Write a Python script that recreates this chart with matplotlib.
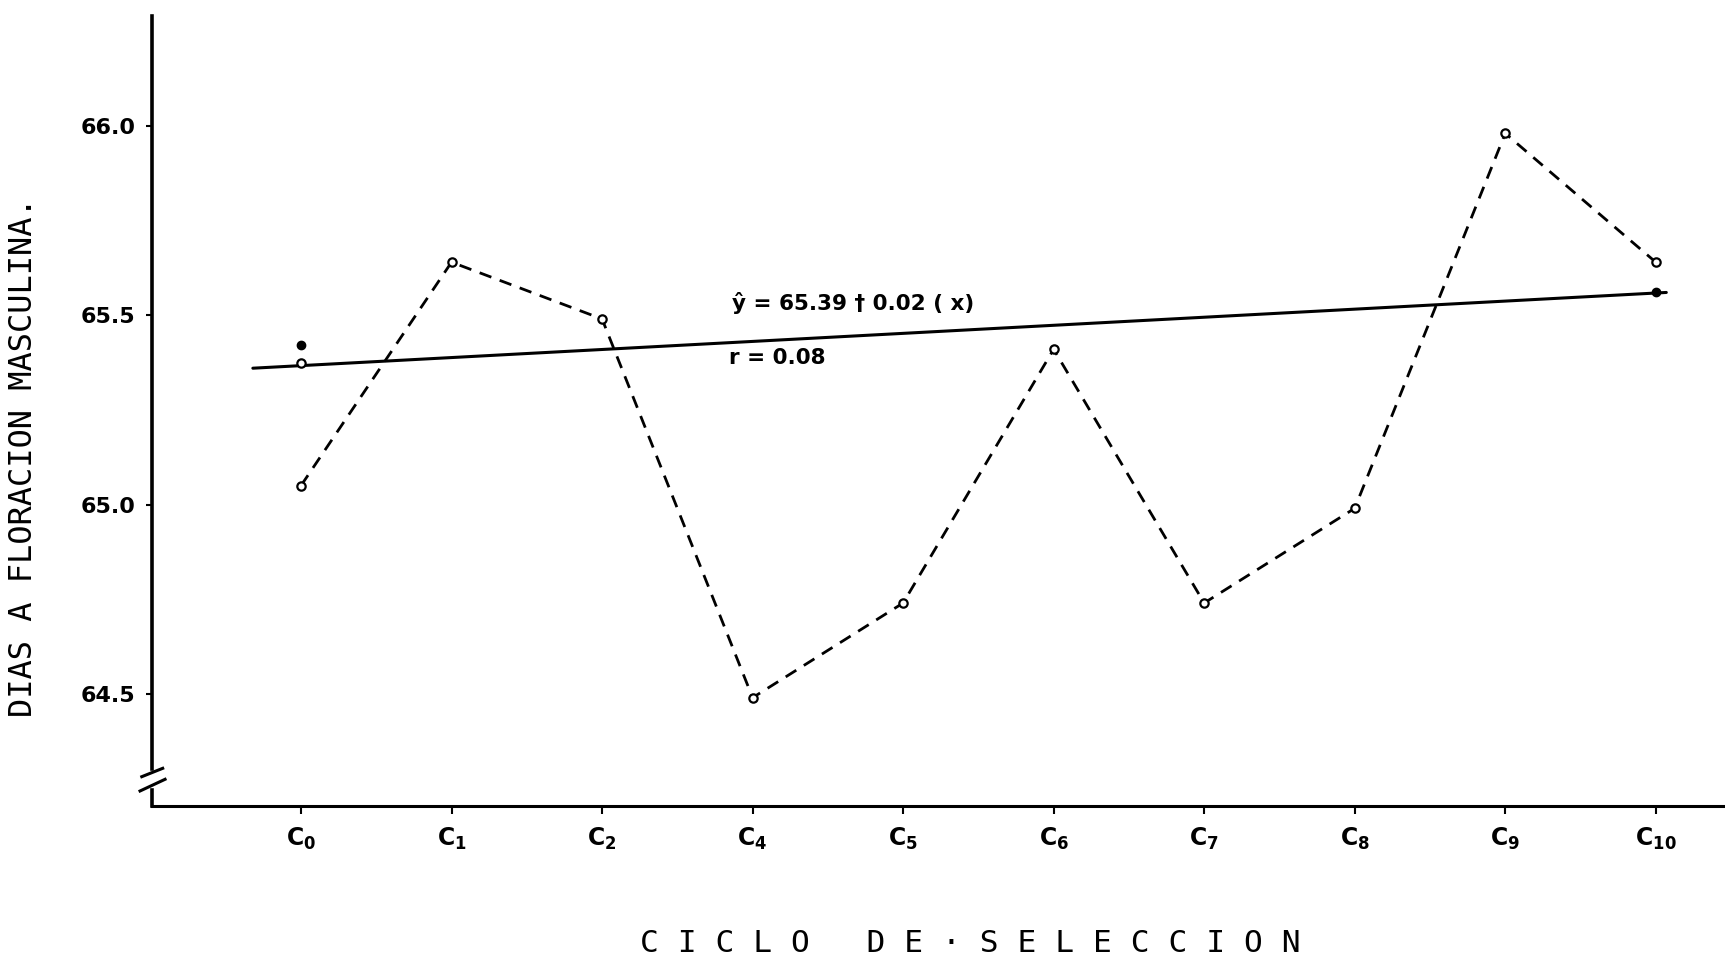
import matplotlib
matplotlib.use("Agg")
import matplotlib.pyplot as plt

# datos
ciclos = [r"$\mathbf{C_{0}}$", r"$\mathbf{C_{1}}$", r"$\mathbf{C_{2}}$",
          r"$\mathbf{C_{4}}$", r"$\mathbf{C_{5}}$", r"$\mathbf{C_{6}}$",
          r"$\mathbf{C_{7}}$", r"$\mathbf{C_{8}}$", r"$\mathbf{C_{9}}$",
          r"$\mathbf{C_{10}}$"]
dias = [65.05, 65.64, 65.49, 64.49, 64.74, 65.41, 64.74, 64.99, 65.98, 65.64]

# recta de regresion, extremos tal como se trazaron
recta_x = [-0.32, 9.07]
recta_y = [65.36, 65.56]

# puntos sueltos junto a la recta
extra_abiertos_x = [0]
extra_abiertos_y = [65.375]
extra_llenos_x = [0, 9]
extra_llenos_y = [65.42, 65.56]

yticks = [64.5, 65.0, 65.5, 66.0]

W, H = 1725, 957
fig = plt.figure(figsize=(W / 100, H / 100), dpi=100)
ax = fig.add_axes([152 / W, (H - 806) / H, (W - 152) / W, 790 / H])

xs = list(range(len(ciclos)))

ax.plot(recta_x, recta_y, color="black", lw=2.2, solid_capstyle="round")
ax.plot(xs, dias, color="black", lw=2.0, dashes=(4.5, 3.2),
        marker="o", ms=6, mfc="white", mec="black", mew=1.6)
ax.plot(extra_abiertos_x, extra_abiertos_y, ls="none", marker="o", ms=6,
        mfc="white", mec="black", mew=1.6)
ax.plot(extra_llenos_x, extra_llenos_y, ls="none", marker="o", ms=6,
        color="black")

ax.text(2.86, 65.532, "ŷ = 65.39 † 0.02 ( x)", fontsize=15.5,
        fontweight="bold", va="center", ha="left")
ax.text(2.84, 65.387, "r = 0.08", fontsize=15.5, fontweight="bold",
        va="center", ha="left")

ax.set_xlim(-0.99, 9.46)
ax.set_ylim(64.204, 66.29)

ax.set_xticks(xs)
ax.set_xticklabels(ciclos, fontsize=17)
ax.set_yticks(yticks)
ax.set_yticklabels([f"{v:.1f}" for v in yticks], fontsize=16,
                   fontweight="bold")
ax.tick_params(axis="x", length=6, width=1.5, pad=8)
ax.tick_params(axis="y", length=4, width=1.5, pad=8)

for s in ["top", "right", "left"]:
    ax.spines[s].set_visible(False)
ax.spines["bottom"].set_linewidth(2.2)

# eje y partido con la marca de corte
kw = dict(transform=ax.transAxes, color="black", clip_on=False)
ax.plot([0, 0], [0.0468, 1.0], lw=2.6, **kw)
ax.plot([0, 0], [0.0, 0.0203], lw=2.6, **kw)
ax.plot([-0.0065, 0.0068], [0.0371, 0.0477], lw=2.2, **kw)
ax.plot([-0.0076, 0.0083], [0.019, 0.0338], lw=2.2, **kw)

fig.text(24 / W, 1 - 457 / H, "DIAS A FLORACION MASCULINA.",
         family="DejaVu Sans Mono", fontsize=23, rotation=90,
         ha="center", va="center")
fig.text(970 / W, 1 - 943 / H, "C I C L O   D E · S E L E C C I O N",
         family="DejaVu Sans Mono", fontsize=22.5, ha="center", va="center")

fig.savefig("out.png", dpi=100, facecolor="white")
